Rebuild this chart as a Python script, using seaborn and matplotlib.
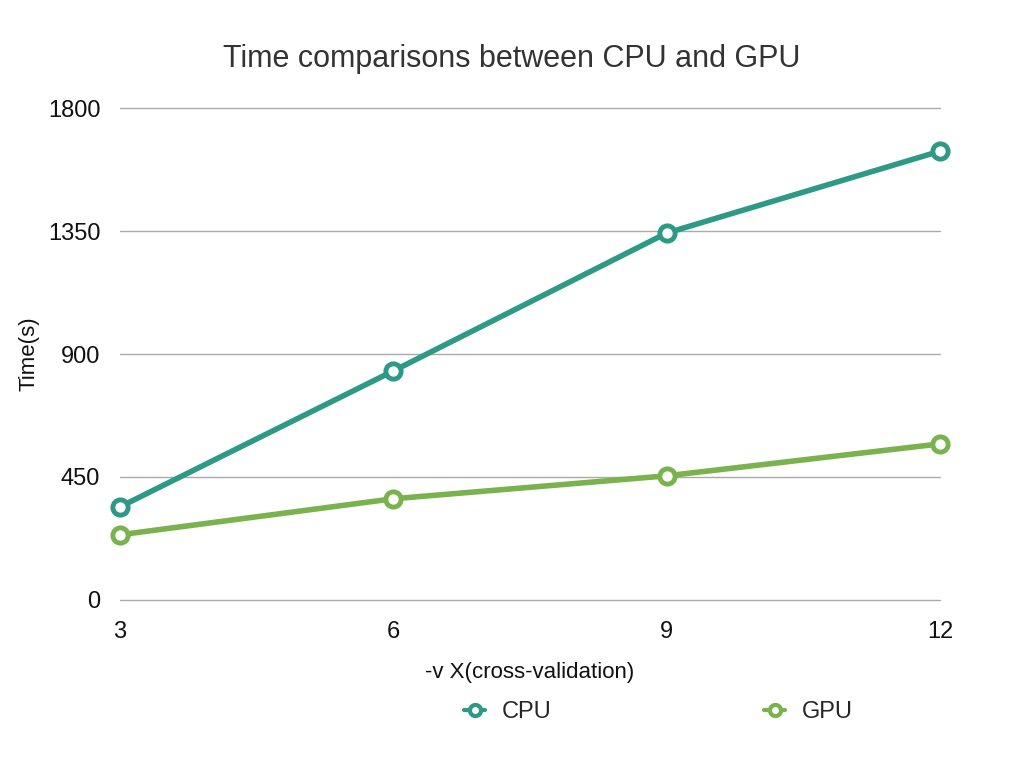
import numpy as np
import pandas as pd
import seaborn as sns
import matplotlib.pyplot as plt

# values
folds = [3, 6, 9, 12]
cpu_time = [340, 838, 1343, 1643]
gpu_time = [238, 370, 454, 571]
y_ticks = [0, 450, 900, 1350, 1800]

df = pd.DataFrame({
    "folds": folds * 2,
    "time": cpu_time + gpu_time,
    "device": ["CPU"] * len(folds) + ["GPU"] * len(folds),
})

sns.set_theme(style="white")
plt.rcParams["font.family"] = ["Liberation Sans", "DejaVu Sans"]

palette = {"CPU": "#2e9a86", "GPU": "#7ab24e"}

fig = plt.figure(figsize=(10.24, 7.68), dpi=100)
ax = fig.add_axes([0.117, 0.219, 0.801, 0.640])

sns.lineplot(data=df, x="folds", y="time", hue="device", palette=palette,
             marker="o", markersize=11, markerfacecolor="white",
             markeredgewidth=3.5, linewidth=4, ax=ax, clip_on=False,
             legend=False, zorder=3)
for line in ax.lines:
    line.set_markeredgecolor(line.get_color())

ax.set_xlim(3, 12)
ax.set_ylim(0, 1800)
ax.set_xticks(folds)
ax.set_yticks(y_ticks)
ax.tick_params(axis="both", labelsize=17, length=0, colors="#111111")
ax.tick_params(axis="x", pad=15)
ax.tick_params(axis="y", pad=14)
ax.grid(axis="y", color="#aaaaaa", linewidth=1)
for gl in ax.get_ygridlines():
    gl.set_clip_on(False)
sns.despine(ax=ax, left=True, bottom=True)

ax.set_xlabel("-v X(cross-validation)", fontsize=16, labelpad=14, color="#111111")
ax.set_ylabel("Time(s)", fontsize=16, labelpad=6, color="#111111")
ax.set_title("Time comparisons between CPU and GPU", fontsize=22,
             color="#333333", pad=30, x=0.478)

handles = [plt.Line2D([], [], color=palette[k], marker="o", markersize=8,
                      markerfacecolor="white", markeredgewidth=3, linewidth=3)
           for k in ["CPU", "GPU"]]
fig.legend(handles, ["CPU", "GPU"], loc="center", bbox_to_anchor=(0.643, 0.073),
           ncol=2, frameon=False, fontsize=17, handlelength=0.9,
           columnspacing=9.0, handletextpad=0.7)

fig.savefig("out.png", dpi=100)
